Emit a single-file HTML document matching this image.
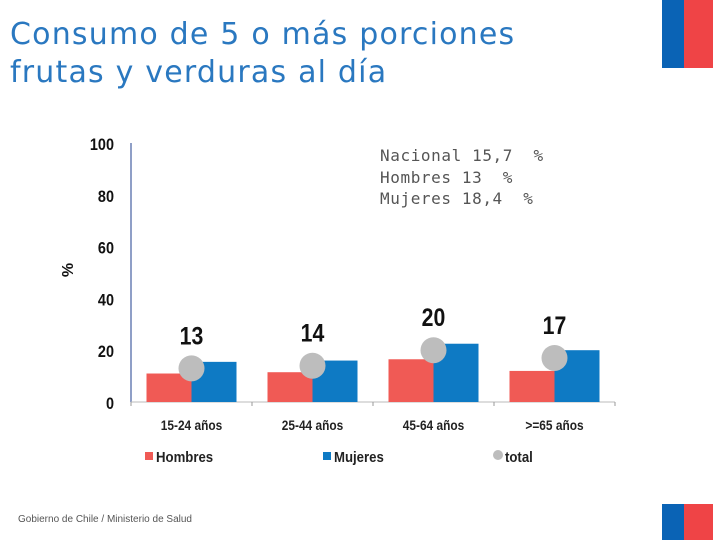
<!DOCTYPE html>
<html><head><meta charset="utf-8"><style>
body{margin:0;width:720px;height:540px;background:#fff;position:relative;overflow:hidden;font-family:"Liberation Sans",sans-serif}
.t{position:absolute;left:10px;top:16px;font-family:"DejaVu Sans",sans-serif;font-size:30px;line-height:38px;color:#2a78c0;font-weight:normal;letter-spacing:1.2px;white-space:nowrap}
.info{position:absolute;left:380px;top:145px;font-family:"DejaVu Sans Mono","Liberation Mono",monospace;font-size:16px;line-height:21.5px;color:#555;white-space:pre;letter-spacing:0.6px}
.foot{position:absolute;left:18px;top:514px;font-size:10px;color:#555}
</style></head><body>
<div class="t">Consumo de 5 o más porciones<br>frutas y verduras al día</div>
<div class="info">Nacional 15,7  %
Hombres 13  %
Mujeres 18,4  %</div>
<div class="foot">Gobierno de Chile / Ministerio de Salud</div>
<div style="position:absolute;left:662px;top:0;width:22px;height:68px;background:#0a63b5"></div>
<div style="position:absolute;left:684px;top:0;width:29px;height:68px;background:#ef4446"></div>
<div style="position:absolute;left:662px;top:504px;width:22px;height:36px;background:#0a63b5"></div>
<div style="position:absolute;left:684px;top:504px;width:29px;height:36px;background:#ef4446"></div>
<svg id="c" width="720" height="540" style="position:absolute;left:0;top:0"></svg>
<script>
const categories=["15-24 años","25-44 años","45-64 años",">=65 años"];
const hombres=[11,11.5,16.5,12];
const mujeres=[15.5,16,22.5,20];
const total=[13,14,20,17];
const ticks=[0,20,40,60,80,100];
const svg=document.getElementById('c');const NS="http://www.w3.org/2000/svg";
const x0=131,x1=615,y0=402,y100=143;
const y=v=>y0-(y0-y100)*v/100;
const bw=(x1-x0)/categories.length;
const cx=i=>x0+bw*(i+0.5);
function mk(t,a,p){const e=document.createElementNS(NS,t);for(const k in a)e.setAttribute(k,a[k]);(p||svg).appendChild(e);return e;}
let e;
e=mk('line',{x1:x0,y1:y100,x2:x0,y2:y0,stroke:'#1f3f8f','stroke-width':1});

e=mk('line',{x1:x0,y1:y0,x2:x1,y2:y0,stroke:'#bbb','stroke-width':1});

for(let i=0;i<=categories.length;i++){e=mk('line',{x1:x0+bw*i,y1:y0,x2:x0+bw*i,y2:y0+4,stroke:'#999'});
}
ticks.forEach(t=>{e=mk('text',{x:114,y:y(t)+7,'text-anchor':'end','font-size':17,'font-weight':'bold',fill:'#111',transform:`scale(0.85,1)`});
e.setAttribute('x',114/0.85);e.textContent=t;
});
e=mk('text',{x:0,y:0,'font-size':16,'font-weight':'bold',fill:'#111',transform:'translate(73,270) rotate(-90)','text-anchor':'middle'});e.textContent='%';

categories.forEach((c,i)=>{
 const c0=cx(i);
 e=mk('rect',{x:c0-45,y:y(hombres[i]),width:45,height:y0-y(hombres[i]),fill:'#f05a55'});
 
 e=mk('rect',{x:c0,y:y(mujeres[i]),width:45,height:y0-y(mujeres[i]),fill:'#0e7ac4'});
 
 e=mk('circle',{cx:c0,cy:y(total[i]),r:13,fill:'#bdbdbd'});
 
 e=mk('text',{x:c0/0.85,y:y(total[i])-24,'text-anchor':'middle','font-size':25,'font-weight':'bold',fill:'#111',transform:'scale(0.85,1)'});e.textContent=total[i];
 
 e=mk('text',{x:c0/0.85,y:430,'text-anchor':'middle','font-size':14,'font-weight':'bold',fill:'#222',transform:'scale(0.85,1)'});e.textContent=c;
 
});
const leg=[["Hombres",145,'#f05a55','r'],["Mujeres",323,'#0e7ac4','r'],["total",494,'#bdbdbd','c']];
leg.forEach(l=>{
 if(l[3]=='r'){e=mk('rect',{x:l[1],y:452,width:8,height:8,fill:l[2]});}else{e=mk('circle',{cx:l[1]+4,cy:455,r:5,fill:l[2]});}
 
 e=mk('text',{x:(l[1]+11)/0.88,y:462,'font-size':15,'font-weight':'bold',fill:'#222',transform:'scale(0.88,1)'});e.textContent=l[0];
 
});
</script>
</body></html>
